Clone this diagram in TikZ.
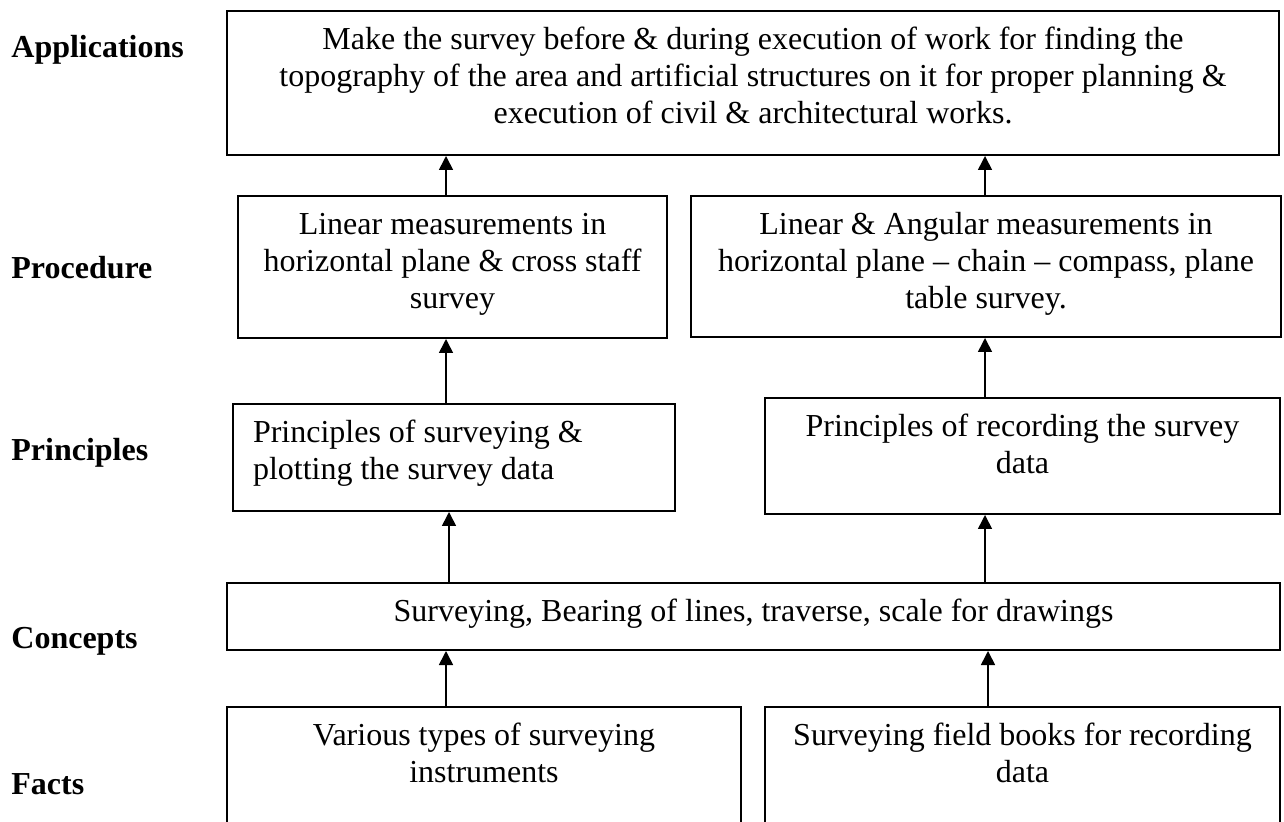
\documentclass[tikz,border=0pt]{standalone}
\usepackage{fontspec}
\setmainfont{Liberation Serif}
\usetikzlibrary{arrows.meta}

% Box contents: width, height, alignment, text (top-aligned with a small top pad)
\newcommand{\blocktext}[4]{%
  \parbox[c][#2][t]{#1}{#3\vspace*{6.5pt}\strut #4}}

\tikzset{
  x=0.5pt, y=-0.5pt,
  blk/.style={draw, line width=1pt, inner sep=0pt, anchor=north west,
    font=\fontsize{16pt}{18.5pt}\selectfont},
  lvl/.style={anchor=base west, inner sep=0pt,
    font=\fontsize{16pt}{19pt}\selectfont\bfseries},
  arr/.style={line width=0.8pt, -{Triangle[length=7pt,width=7pt]}}
}

\begin{document}
\begin{tikzpicture}
\useasboundingbox (0,0) rectangle (1284,822);
\clip (0,0) rectangle (1284,822);

% level labels
\node[lvl] (lapp)  at (11,58)  {Applications};
\node[lvl] (lproc) at (11,279) {Procedure};
\node[lvl] (lprin) at (11,461) {Principles};
\node[lvl] (lconc) at (11,648) {Concepts};
\node[lvl] (lfact) at (11,794) {Facts};

% boxes
\node[blk] (app) at (226,10) {\blocktext{526pt}{72pt}{\centering}{%
  Make the survey before \& during execution of work for finding the\\
  topography of the area and artificial structures on it for proper planning \&\\
  execution of civil \& architectural works.}};

\node[blk] (procL) at (237,195) {\blocktext{214.5pt}{71pt}{\centering}{%
  Linear measurements in\\ horizontal plane \& cross staff\\ survey}};

\node[blk] (procR) at (690,195) {\blocktext{295pt}{70.5pt}{\centering}{%
  Linear \& Angular measurements in\\
  horizontal plane – chain – compass, plane\\ table survey.}};

\node[blk] (prinL) at (232,403) {\blocktext{221pt}{53.5pt}{\raggedright\leftskip=10pt}{%
  Principles of surveying \&\\ plotting the survey data}};

\node[blk] (prinR) at (764,397) {\blocktext{257.5pt}{58pt}{\centering}{%
  Principles of recording the survey\\ data}};

\node[blk] (conc) at (226,582) {\blocktext{526.5pt}{33.5pt}{\centering}{%
  Surveying, Bearing of lines, traverse, scale for drawings}};

\node[blk] (factL) at (226,706) {\blocktext{257pt}{67pt}{\centering}{%
  Various types of surveying\\ instruments}};

\node[blk] (factR) at (764,706) {\blocktext{257.5pt}{67pt}{\centering}{%
  Surveying field books for recording\\ data}};

% arrow columns
\coordinate (xa) at (446,0);
\coordinate (xb) at (985,0);
\coordinate (xc) at (449,0);
\coordinate (xd) at (988,0);

% connectors
\draw[arr] (xa |- procL.north) -- (xa |- app.south);
\draw[arr] (xb |- procR.north) -- (xb |- app.south);
\draw[arr] (xa |- prinL.north) -- (xa |- procL.south);
\draw[arr] (xb |- prinR.north) -- (xb |- procR.south);
\draw[arr] (xc |- conc.north)  -- (xc |- prinL.south);
\draw[arr] (xb |- conc.north)  -- (xb |- prinR.south);
\draw[arr] (xa |- factL.north) -- (xa |- conc.south);
\draw[arr] (xd |- factR.north) -- (xd |- conc.south);
\end{tikzpicture}
\end{document}
